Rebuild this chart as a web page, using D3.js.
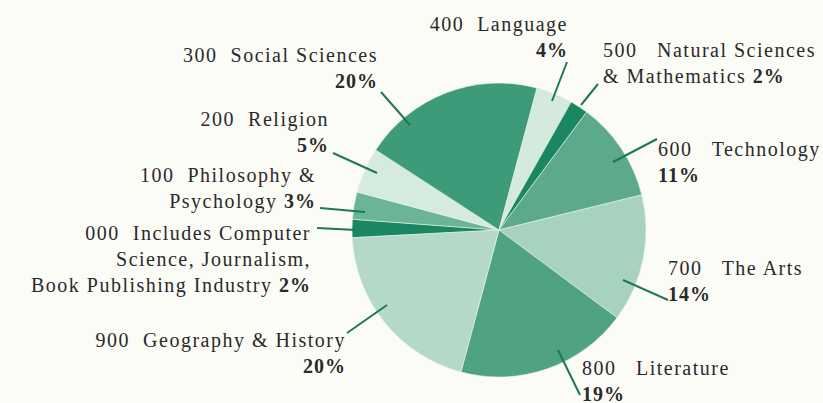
<!DOCTYPE html>
<html>
<head>
<meta charset="utf-8">
<script src="https://cdn.jsdelivr.net/npm/d3@7"></script>
<style>
  body { margin: 0; background: #fcfcf7; }
  svg { display: block; }
  text { font-family: "Liberation Serif", "DejaVu Serif", serif; fill: #2a2a2a; white-space: pre; letter-spacing: 1.5px; }
  .pct { font-weight: bold; letter-spacing: 1px; }
</style>
</head>
<body>
<div id="chart"></div>
<script>
// Dewey classes, in pie order (clockwise from the left side)
var codes = ['000', '100', '200', '300', '400', '500', '600', '700', '800', '900'];
var shares = [2, 3, 5, 20, 4, 2, 11, 14, 19, 20];
var colors = ['#1b8762', '#6cb496', '#d5ebdf', '#3e9b79', '#d3eadc', '#1b8762', '#5ca98b', '#a7d3be', '#4fa282', '#b4d9c6'];

// label text lines; the last line carries the percentage
var labelLines = [
  ['000  Includes Computer', 'Science, Journalism,', 'Book Publishing Industry '],
  ['100  Philosophy &', 'Psychology '],
  ['200  Religion', ''],
  ['300  Social Sciences', ''],
  ['400  Language', ''],
  ['500   Natural Sciences', '& Mathematics '],
  ['600   Technology', ''],
  ['700   The Arts', ''],
  ['800   Literature', ''],
  ['900  Geography & History', '']
];

var width = 823,
    height = 403,
    cx = 499,
    cy = 230,
    radius = 147,
    lineGap = 26;

// label anchor: [x, first baseline, anchor]
var labelPos = [
  [311, 240, 'end'],
  [316, 182, 'end'],
  [329, 126, 'end'],
  [378, 62, 'end'],
  [568, 31, 'end'],
  [603, 57, 'start'],
  [658, 156, 'start'],
  [668, 275, 'start'],
  [582, 375, 'start'],
  [346, 347, 'end']
];

// leader lines: [outer x, outer y, inner x, inner y]
var leaders = [
  [317, 228, 356, 230],
  [320, 208, 365, 212],
  [333, 153, 377, 173],
  [381, 92, 410, 125],
  [567, 62, 552, 101],
  [598, 84, 581, 105],
  [657, 139, 613, 162],
  [668, 300, 623, 280],
  [580, 395, 558, 350],
  [347, 333, 387, 305]
];

var svg = d3.select('#chart')
    .append('svg')
    .attr('width', width)
    .attr('height', height);

svg.append('rect')
    .attr('width', width)
    .attr('height', height)
    .attr('fill', '#fcfcf7');

var startDeg = -93;
var pie = d3.pie()
    .sort(null)
    .value(d => d)
    .startAngle(startDeg * Math.PI / 180)
    .endAngle((startDeg + 360) * Math.PI / 180);

var arc = d3.arc().innerRadius(0).outerRadius(radius);

var g = svg.append('g')
    .attr('transform', `translate(${cx},${cy})`);

g.selectAll('path.slice')
    .data(pie(shares))
    .enter().append('path')
    .attr('class', 'slice')
    .attr('d', arc)
    .attr('fill', (d, i) => colors[i])
    .attr('stroke', '#e4f1e9')
    .attr('stroke-width', 0.6);

// leader lines
svg.selectAll('line.leader')
    .data(leaders)
    .enter().append('line')
    .attr('class', 'leader')
    .attr('x1', d => d[0])
    .attr('y1', d => d[1])
    .attr('x2', d => d[2])
    .attr('y2', d => d[3])
    .attr('stroke', '#1f7758')
    .attr('stroke-width', 2);

// labels
codes.forEach(function (code, i) {
    var pos = labelPos[i],
        lines = labelLines[i];
    var t = svg.append('text')
        .attr('x', pos[0])
        .attr('y', pos[1])
        .attr('text-anchor', pos[2])
        .style('font-size', '20px');
    lines.forEach(function (ln, j) {
        var ts = t.append('tspan')
            .attr('x', pos[0])
            .attr('dy', j === 0 ? 0 : lineGap);
        ts.append('tspan').text(ln);
        if (j === lines.length - 1) {
            ts.append('tspan').attr('class', 'pct').text(shares[i] + '%');
        }
    });
});
</script>
</body>
</html>
